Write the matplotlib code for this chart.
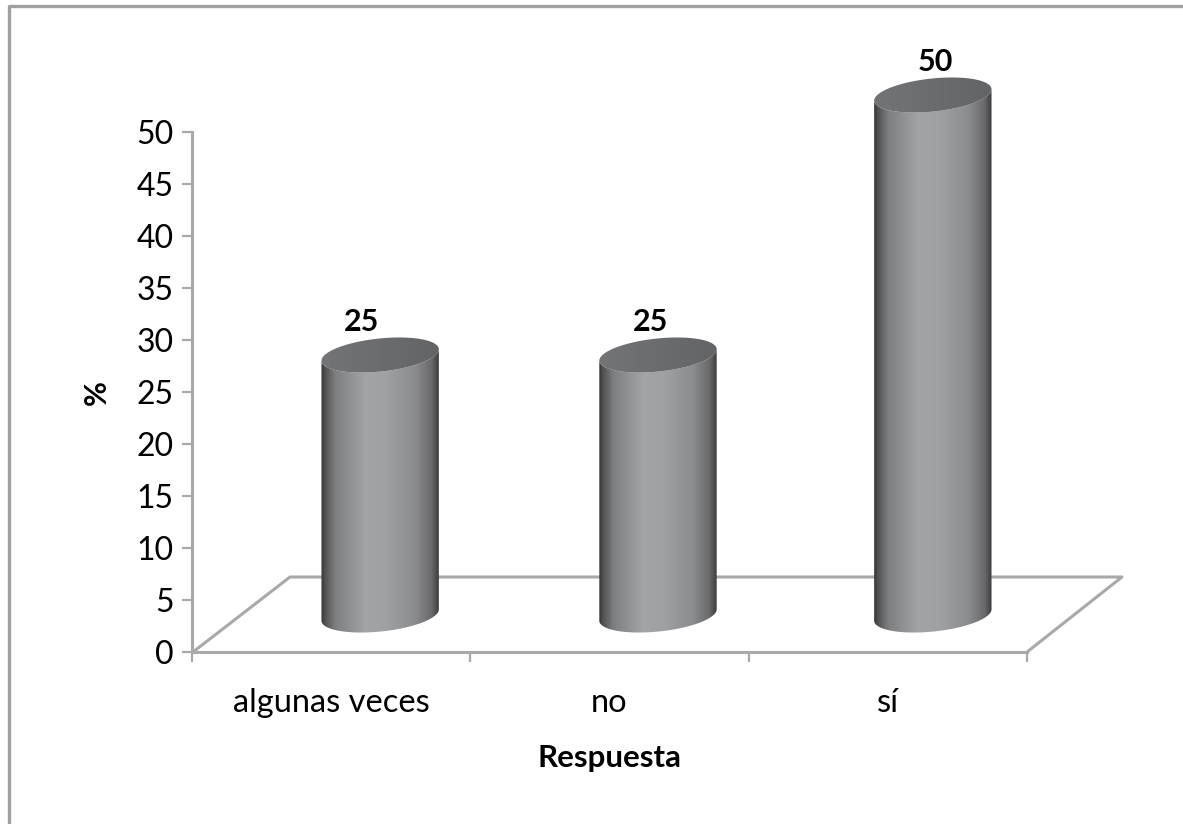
import numpy as np
from matplotlib import pyplot as plt
from matplotlib.colors import LinearSegmentedColormap
from matplotlib.lines import Line2D
from matplotlib.patches import PathPatch
from matplotlib.path import Path

categorias = ['algunas veces', 'no', 'sí']
porcentajes = [25, 25, 50]
yticks = [0, 5, 10, 15, 20, 25, 30, 35, 40, 45, 50]

W, H = 1183, 824
plt.rcParams['font.family'] = ['Lato', 'DejaVu Sans']

fig = plt.figure(figsize=(W / 100, H / 100), dpi=100)
# plot area in pixels
x0, x1, y0, y1 = 192, 1027, 652, 132
ax = fig.add_axes([x0 / W, 1 - y0 / H, (x1 - x0) / W, (y0 - y1) / H])
ax.patch.set_alpha(0)

px_x = (x1 - x0) / 3
px_y = (y0 - y1) / 50

# cylinder shape, all in pixels relative to the centre of the base
semi_a = 59
semi_b = 16.5
tilt = np.deg2rad(6)
shift_x = [49, 48.5, 45]
label_dx = [-19, -7, 2]
base_y = 37

cmap_body = LinearSegmentedColormap.from_list('body', [
    (0.0, '#333333'), (0.03, '#505050'), (0.12, '#7e7f81'), (0.38, '#a3a4a7'),
    (0.55, '#a0a1a4'), (0.80, '#8b8c8e'), (0.94, '#69696b'), (1.0, '#3c3c3c')])
cmap_top = LinearSegmentedColormap.from_list('top', ['#737477', '#636466'])

# floor of the 3D plot, behind the cylinders
grey = '#a9a9a9'
fig.add_artist(Line2D([193 / W, 290 / W, 1122 / W, 1027 / W],
                      [1 - 652 / H, 1 - 577 / H, 1 - 577 / H, 1 - 652 / H],
                      color=grey, lw=2.2, zorder=-1))
# outer frame, only top and left are visible
fig.add_artist(Line2D([8.5 / W, 8.5 / W, 1], [0, 1 - 5.5 / H, 1 - 5.5 / H],
                      color='#a0a0a0', lw=2.4, zorder=-1))

ax.set_xlim(0, 3)
ax.set_ylim(0, 50)


def ellipse(cx, cy, t):
    # points of the tilted ellipse, returned in data units
    ex = semi_a * np.cos(t)
    ey = semi_b * np.sin(t)
    dx = ex * np.cos(tilt) - ey * np.sin(tilt)
    dy = ex * np.sin(tilt) + ey * np.cos(tilt)
    return cx + dx / px_x, cy + dy / px_y


def gradient_fill(path, cmap, zorder):
    clip = PathPatch(path, transform=ax.transData, fc='none', ec='none')
    ax.add_patch(clip)
    xs = path.vertices[:, 0]
    grad = np.linspace(0, 1, 256).reshape(1, -1)
    im = ax.imshow(grad, cmap=cmap, extent=[xs.min(), xs.max(), 0, 58],
                   aspect='auto', zorder=zorder)
    # the tallest cylinder goes above the axes area
    im.set_clip_box(fig.bbox)
    im.set_clip_path(clip)


for i, (cat, val) in enumerate(zip(categorias, porcentajes)):
    cx = i + 0.5 + shift_x[i] / px_x
    cy_base = base_y / px_y
    cy_top = val + cy_base

    t_low = np.linspace(np.pi, 2 * np.pi, 60)
    bx, by = ellipse(cx, cy_base, t_low)
    tx, ty = ellipse(cx, cy_top, t_low[::-1])
    verts = np.vstack([np.column_stack([bx, by]), np.column_stack([tx, ty])])
    verts = np.vstack([verts, verts[0]])
    gradient_fill(Path(verts, closed=True), cmap_body, 3)

    ex, ey = ellipse(cx, cy_top, np.linspace(0, 2 * np.pi, 120))
    gradient_fill(Path(np.column_stack([ex, ey]), closed=True), cmap_top, 4)

    ax.text(cx + label_dx[i] / px_x, cy_top + 33 / px_y, str(val), ha='center', va='center',
            fontsize=22, fontweight='bold', color='black', clip_on=False, zorder=5)

ax.set_xlim(0, 3)
ax.set_ylim(0, 50)

for s in ['top', 'right']:
    ax.spines[s].set_visible(False)
for s in ['left', 'bottom']:
    ax.spines[s].set_color(grey)
    ax.spines[s].set_linewidth(2.2)

ax.set_yticks(yticks)
ax.set_xticks([0, 1, 2, 3])
ax.set_xticklabels([])
ax.set_xticks([0.5, 1.5, 2.5], categorias, minor=True)
ax.tick_params(axis='x', which='major', length=7, width=1.6, color=grey)
ax.tick_params(axis='x', which='minor', length=0, pad=26, labelsize=23.5)
ax.tick_params(axis='y', length=7, width=1.6, color=grey, labelsize=23, pad=6)

fig.text(609 / W, 1 - 758 / H, 'Respuesta', ha='center', va='center',
         fontsize=22.5, fontweight='bold')
fig.text(97 / W, 1 - 393 / H, '%', ha='center', va='center', rotation=90,
         fontsize=22, fontweight='bold')

fig.savefig('out.png', dpi=100)
